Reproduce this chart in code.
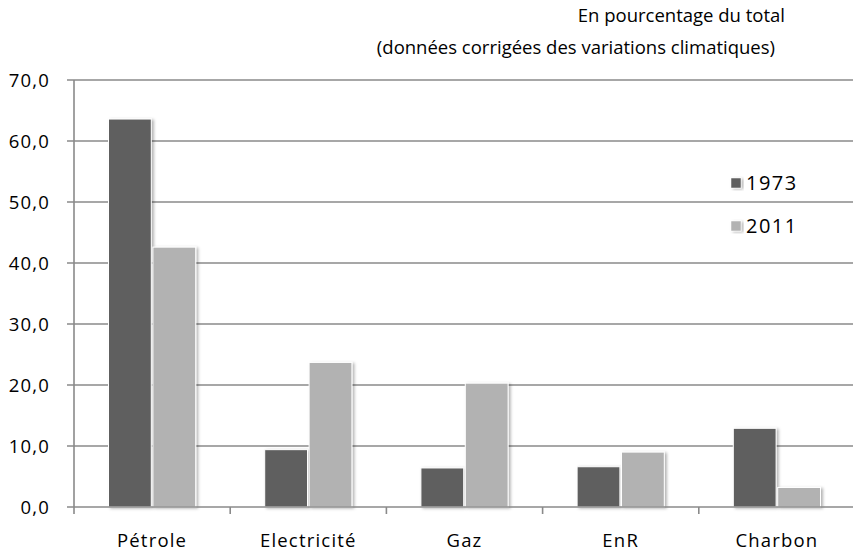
<!DOCTYPE html>
<html>
<head>
<meta charset="utf-8">
<script src="https://cdn.jsdelivr.net/npm/d3@7"></script>
<style>
  body { margin: 0; background: #fff; }
  svg { display: block; }
</style>
</head>
<body>
<div id="main"></div>
<script>
// chart data
const categories = ['Pétrole', 'Electricité', 'Gaz', 'EnR', 'Charbon'];
const seriesNames = ['1973', '2011'];
const values1973 = [63.6, 9.4, 6.4, 6.6, 12.9];
const values2011 = [42.6, 23.7, 20.3, 9.0, 3.2];
const yTicks = [0, 10, 20, 30, 40, 50, 60, 70];
const titleLines = ['En pourcentage du total', '(données corrigées des variations climatiques)'];

const colors = { '1973': '#5f5f5f', '2011': '#b2b2b2' };

const svgWidth = 853;
const svgHeight = 554;
const plot = { l: 74, r: 855, t: 80, b: 507 };
const chartFont = '"Open Sans", sans-serif';

const svg = d3
  .select('#main')
  .append('svg')
  .attr('width', svgWidth)
  .attr('height', svgHeight);

// soft shadow for the bars
const defs = svg.append('defs');
const shadow = defs
  .append('filter')
  .attr('id', 'shadow')
  .attr('x', '-20%')
  .attr('y', '-20%')
  .attr('width', '150%')
  .attr('height', '150%');
shadow
  .append('feDropShadow')
  .attr('dx', 2)
  .attr('dy', 1)
  .attr('stdDeviation', 1.6)
  .attr('flood-color', '#000')
  .attr('flood-opacity', 0.3);

// scales
const x = d3
  .scaleBand()
  .domain(categories)
  .range([plot.l, plot.r])
  .padding(0);

const xInner = d3
  .scaleBand()
  .domain(seriesNames)
  .range([34.5, x.bandwidth() - 34.5])
  .paddingInner(0.036);

const y = d3
  .scaleLinear()
  .domain([0, 70])
  .range([plot.b, plot.t]);

// gridlines
svg
  .append('g')
  .selectAll('line')
  .data(yTicks.filter(d => d > 0))
  .enter()
  .append('line')
  .attr('x1', plot.l - 7)
  .attr('x2', svgWidth)
  .attr('y1', d => y(d))
  .attr('y2', d => y(d))
  .attr('stroke', '#8a8a8a')
  .attr('stroke-width', 1.6);

// y axis line
svg
  .append('line')
  .attr('x1', plot.l)
  .attr('x2', plot.l)
  .attr('y1', plot.t)
  .attr('y2', plot.b)
  .attr('stroke', '#8a8a8a')
  .attr('stroke-width', 1.6);

// y tick labels
svg
  .append('g')
  .selectAll('text')
  .data(yTicks)
  .enter()
  .append('text')
  .attr('x', 50)
  .attr('y', d => y(d))
  .attr('dy', '0.36em')
  .attr('text-anchor', 'end')
  .style('font-family', chartFont)
  .style('font-size', '18.5px')
  .style('letter-spacing', '1.2px')
  .style('fill', '#000')
  .text(d => d3.format('.1f')(d).replace('.', ','));

// bars
const rows = categories.map((c, i) => ({
  cat: c,
  vals: [
    { key: '1973', value: values1973[i] },
    { key: '2011', value: values2011[i] }
  ]
}));

const groups = svg
  .selectAll('.group')
  .data(rows)
  .enter()
  .append('g')
  .attr('class', 'group')
  .attr('transform', d => `translate(${x(d.cat)},0)`);

groups
  .selectAll('rect')
  .data(d => d.vals)
  .enter()
  .append('rect')
  .attr('x', d => xInner(d.key))
  .attr('y', d => y(d.value))
  .attr('width', xInner.bandwidth())
  .attr('height', d => y(0) - y(d.value))
  .attr('fill', d => colors[d.key])
  .attr('stroke', '#fff')
  .attr('stroke-width', 1)
  .attr('filter', 'url(#shadow)');

// x axis line + ticks
svg
  .append('line')
  .attr('x1', plot.l - 7)
  .attr('x2', svgWidth)
  .attr('y1', plot.b)
  .attr('y2', plot.b)
  .attr('stroke', '#8a8a8a')
  .attr('stroke-width', 1.6);

svg
  .append('g')
  .selectAll('line')
  .data(categories)
  .enter()
  .append('line')
  .attr('x1', d => x(d))
  .attr('x2', d => x(d))
  .attr('y1', plot.b)
  .attr('y2', plot.b + 7)
  .attr('stroke', '#8a8a8a')
  .attr('stroke-width', 1.6);

// category labels
svg
  .append('g')
  .selectAll('text')
  .data(categories)
  .enter()
  .append('text')
  .attr('x', d => x(d) + x.bandwidth() / 2)
  .attr('y', 547)
  .attr('text-anchor', 'middle')
  .style('font-family', chartFont)
  .style('font-size', '18.5px')
  .style('letter-spacing', '1.2px')
  .style('fill', '#000')
  .text(d => d);

// legend
const legend = svg
  .append('g')
  .selectAll('g')
  .data(seriesNames)
  .enter()
  .append('g')
  .attr('transform', (d, i) => `translate(731,${183 + i * 43})`);

legend
  .append('rect')
  .attr('x', 0)
  .attr('y', -5)
  .attr('width', 10)
  .attr('height', 10)
  .attr('fill', d => colors[d])
  .attr('stroke', '#fff')
  .attr('stroke-width', 0.5)
  .attr('filter', 'url(#shadow)');

legend
  .append('text')
  .attr('x', 15)
  .attr('y', 0)
  .attr('dy', '0.36em')
  .style('font-family', chartFont)
  .style('font-size', '20px')
  .style('letter-spacing', '1.5px')
  .style('fill', '#000')
  .text(d => d);

// title in the top right
svg
  .append('g')
  .selectAll('text')
  .data(titleLines)
  .enter()
  .append('text')
  .attr('x', (d, i) => (i === 0 ? 785 : 775))
  .attr('y', (d, i) => 22 + i * 32)
  .attr('text-anchor', 'end')
  .style('font-family', chartFont)
  .style('font-size', '18.5px')
  .style('fill', '#000')
  .text(d => d);
</script>
</body>
</html>
